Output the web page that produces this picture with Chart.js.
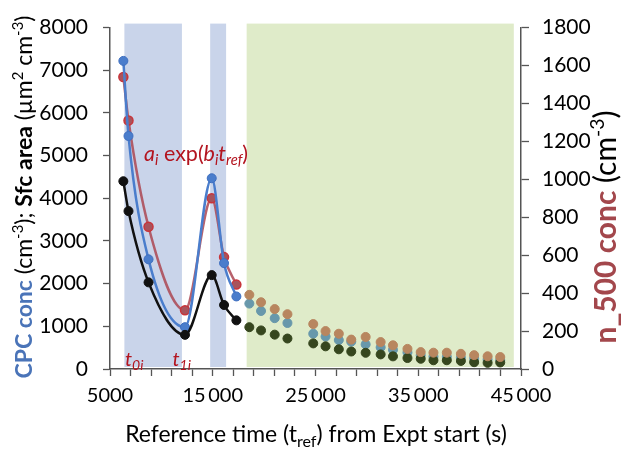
<!DOCTYPE html>
<html>
<head>
<meta charset="utf-8">
<script src="https://cdn.jsdelivr.net/npm/chart.js@4/dist/chart.umd.min.js"></script>
<style>
  body { margin: 0; background: #fff; }
  #wrap { width: 622px; height: 449px; position: relative; }
</style>
</head>
<body>
<div id="wrap"><canvas id="chart"></canvas></div>
<script>
// Fitted period (lines through points)
const fitTimes = [6300, 6800, 8750, 12300, 14900, 16100, 17300];
const cpcFit   = [7220, 5460, 2570, 980, 4470, 2480, 1700];
const sfcFit   = [4400, 3700, 2030, 800, 2200, 1500, 1140];
const n500Fit  = [1540, 1310, 750, 310, 900, 590, 445];

// Later period (dots only)
const laterTimes = [18560, 19700, 21030, 22270, 24780, 25980, 27270, 28480, 29880, 31340,
                    32540, 33950, 35240, 36480, 37780, 39150, 40440, 41750, 42980];
const cpcLater  = [1533, 1360, 1191, 1078, 827, 759, 677, 640, 576, 508,
                   449, 387, 320, 290, 285, 265, 245, 225, 210];
const sfcLater  = [980, 904, 805, 714, 600, 531, 462, 410, 380, 342,
                   296, 257, 240, 205, 205, 189, 159, 144, 153];
const n500Later = [391, 352, 316, 289, 237, 200, 186, 155, 169, 142,
                   125, 106, 89, 86, 86, 80, 73, 67, 63];

// Shaded periods (x ranges)
const blueBandStarts = [6400, 14750];
const blueBandEnds   = [12000, 16300];
const greenBandStart = 18300;
const greenBandEnd   = 44300;

// Tick labels
const xLabelValues = [5000, 15000, 25000, 35000, 45000];

const FONT = 'Lato, "Open Sans", sans-serif';

function toPoints(xs, ys) {
    return xs.map((x, i) => ({ x: x, y: ys[i] }));
}

function fmtX(v) {
    if (v < 10000) return String(v);
    const s = String(v);
    return s.slice(0, s.length - 3) + '\u2009' + s.slice(-3);
}

// draw a run of styled text pieces; fitLen scales the run to a given length
function richText(ctx, parts, x, y, rotate, align, fitLen) {
    ctx.save();
    ctx.translate(x, y);
    if (rotate) ctx.rotate(rotate);
    ctx.textBaseline = 'alphabetic';
    ctx.textAlign = 'left';
    const fontOf = (p, k) => (p.italic ? 'italic ' : '') + (p.bold ? 'bold ' : '') + (p.size * k).toFixed(2) + 'px ' + FONT;
    const measure = k => parts.map(p => { ctx.font = fontOf(p, k); return ctx.measureText(p.text).width; });
    let k = 1;
    let widths = measure(1);
    let total = widths.reduce((a, b) => a + b, 0);
    if (fitLen) {
        k = fitLen / total;
        widths = measure(k);
        total = widths.reduce((a, b) => a + b, 0);
    }
    let cx = align === 'center' ? -total / 2 : 0;
    parts.forEach((p, i) => {
        ctx.font = fontOf(p, k);
        ctx.fillStyle = p.color || '#000';
        ctx.fillText(p.text, cx, (p.shift || 0) * k);
        cx += widths[i];
    });
    ctx.restore();
}

const bandsPlugin = {
    id: 'bands',
    beforeDatasetsDraw(chart) {
        const ctx = chart.ctx, xs = chart.scales.x, area = chart.chartArea;
        const top = area.top - 4, bottom = area.bottom - 2;
        ctx.save();
        ctx.fillStyle = '#c9d4ea';
        blueBandStarts.forEach((s, i) => {
            const x0 = xs.getPixelForValue(s), x1 = xs.getPixelForValue(blueBandEnds[i]);
            ctx.fillRect(x0, top, x1 - x0, bottom - top);
        });
        ctx.fillStyle = '#dfebc9';
        const g0 = xs.getPixelForValue(greenBandStart), g1 = xs.getPixelForValue(greenBandEnd);
        ctx.fillRect(g0, top, g1 - g0, bottom - top);
        ctx.restore();
    }
};

const textPlugin = {
    id: 'texts',
    afterDraw(chart) {
        const ctx = chart.ctx, xs = chart.scales.x, ys = chart.scales.y;
        const red = '#b3141f';
        // fit annotation
        richText(ctx, [
            { text: 'a', size: 19, italic: true, color: red },
            { text: 'i', size: 13, italic: true, color: red, shift: 4 },
            { text: ' exp(', size: 19, color: red },
            { text: 'b', size: 19, italic: true, color: red },
            { text: 'i', size: 13, italic: true, color: red, shift: 4 },
            { text: 't', size: 19, italic: true, color: red },
            { text: 'ref', size: 13, italic: true, color: red, shift: 4 },
            { text: ')', size: 19, color: red }
        ], xs.getPixelForValue(8320), ys.getPixelForValue(4875), 0, 'left', 104);
        richText(ctx, [
            { text: 't', size: 20, italic: true, color: red },
            { text: '0i', size: 14, italic: true, color: red, shift: 4 }
        ], xs.getPixelForValue(6460), ys.getPixelForValue(68));
        richText(ctx, [
            { text: 't', size: 20, italic: true, color: red },
            { text: '1i', size: 14, italic: true, color: red, shift: 4 }
        ], xs.getPixelForValue(11080), ys.getPixelForValue(68));

        // left axis title
        richText(ctx, [
            { text: 'CPC conc', size: 20, bold: true, color: '#4a74b8' },
            { text: ' (cm', size: 20 },
            { text: '-3', size: 13, shift: -8 },
            { text: '); ', size: 20 },
            { text: 'Sfc area', size: 20, bold: true },
            { text: ' (\u00b5m', size: 20 },
            { text: '2', size: 13, shift: -8 },
            { text: ' cm', size: 20 },
            { text: '-3', size: 13, shift: -8 },
            { text: ')', size: 20 }
        ], 32, 197, -Math.PI / 2, 'center', 363);

        // right axis title
        richText(ctx, [
            { text: 'n_500 conc', size: 20, bold: true, color: '#a3474c' },
            { text: ' (cm', size: 20 },
            { text: '-3', size: 13, shift: -8 },
            { text: ')', size: 20 }
        ], 616, 227, -Math.PI / 2, 'center', 233);

        // x axis title
        richText(ctx, [
            { text: 'Reference time (t', size: 20 },
            { text: 'ref', size: 14, shift: 4 },
            { text: ') from Expt start (s)', size: 20 }
        ], 316, 442, 0, 'center', 382);
    }
};

const axisColor = '#555';

new Chart(document.getElementById('chart'), {
    type: 'scatter',
    data: {
        datasets: [{
            label: 'CPC conc fit',
            data: toPoints(fitTimes, cpcFit),
            showLine: true,
            cubicInterpolationMode: 'monotone',
            borderColor: '#4a7dcc',
            borderWidth: 2.5,
            backgroundColor: '#4a7dcc',
            pointBackgroundColor: '#4a7dcc',
            pointBorderColor: '#3f6fc0',
            pointBorderWidth: 1,
            pointRadius: 4.5,
            yAxisID: 'y',
            order: 5
        }, {
            label: 'n_500 fit',
            data: toPoints(fitTimes, n500Fit),
            showLine: true,
            cubicInterpolationMode: 'monotone',
            borderColor: 'rgba(172, 70, 82, 0.85)',
            borderWidth: 2.5,
            pointBackgroundColor: '#a8535c',
            pointBorderColor: '#c8343a',
            pointBorderWidth: 1.5,
            pointRadius: 4.5,
            yAxisID: 'y1',
            order: 6
        }, {
            label: 'Sfc area fit',
            data: toPoints(fitTimes, sfcFit),
            showLine: true,
            cubicInterpolationMode: 'monotone',
            borderColor: '#111',
            borderWidth: 2.5,
            pointBackgroundColor: '#111',
            pointBorderColor: '#111',
            pointBorderWidth: 1,
            pointRadius: 4.5,
            yAxisID: 'y',
            order: 4
        }, {
            label: 'CPC conc',
            data: toPoints(laterTimes, cpcLater),
            pointBackgroundColor: '#6898ab',
            pointBorderColor: '#6898ab',
            pointRadius: 4.5,
            yAxisID: 'y',
            order: 3
        }, {
            label: 'Sfc area',
            data: toPoints(laterTimes, sfcLater),
            pointBackgroundColor: '#36461e',
            pointBorderColor: '#36461e',
            pointRadius: 4.5,
            yAxisID: 'y',
            order: 2
        }, {
            label: 'n_500',
            data: toPoints(laterTimes, n500Later),
            pointBackgroundColor: '#b8865f',
            pointBorderColor: '#b8865f',
            pointRadius: 4.5,
            yAxisID: 'y1',
            order: 1
        }]
    },
    options: {
        responsive: true,
        maintainAspectRatio: false,
        animation: false,
        layout: { padding: { top: 18, left: 0, right: 0, bottom: 0 } },
        plugins: {
            legend: { display: false },
            tooltip: { enabled: false }
        },
        scales: {
            x: {
                type: 'linear',
                min: 5000,
                max: 45000,
                afterBuildTicks(scale) {
                    const t = [];
                    for (let v = 5000; v <= 45000; v += 2000) t.push({ value: v });
                    scale.ticks = t;
                },
                afterFit(scale) { scale.height = 80; },
                border: { color: axisColor, width: 1.5 },
                grid: { drawOnChartArea: false, tickLength: 7, color: axisColor, tickWidth: 1.3 },
                ticks: {
                    autoSkip: false,
                    maxRotation: 0,
                    padding: 8,
                    color: '#000',
                    font: { family: FONT, size: 20 },
                    callback: v => xLabelValues.includes(v) ? fmtX(v) : ''
                }
            },
            y: {
                position: 'left',
                min: 0,
                max: 8000,
                afterFit(scale) { scale.width = 110; },
                border: { color: axisColor, width: 1.5 },
                grid: { drawOnChartArea: false, tickLength: 7, color: axisColor, tickWidth: 1.3 },
                ticks: {
                    stepSize: 1000,
                    padding: 15,
                    color: '#000',
                    font: { family: FONT, size: 21 },
                    callback: v => String(v)
                }
            },
            y1: {
                position: 'right',
                min: 0,
                max: 1800,
                afterFit(scale) { scale.width = 101; },
                border: { color: axisColor, width: 1.5 },
                grid: { drawOnChartArea: false, tickLength: 8, color: axisColor, tickWidth: 1.3 },
                ticks: {
                    stepSize: 200,
                    padding: 13,
                    color: '#000',
                    font: { family: FONT, size: 21 },
                    callback: v => String(v)
                }
            }
        }
    },
    plugins: [bandsPlugin, textPlugin]
});
</script>
</body>
</html>
